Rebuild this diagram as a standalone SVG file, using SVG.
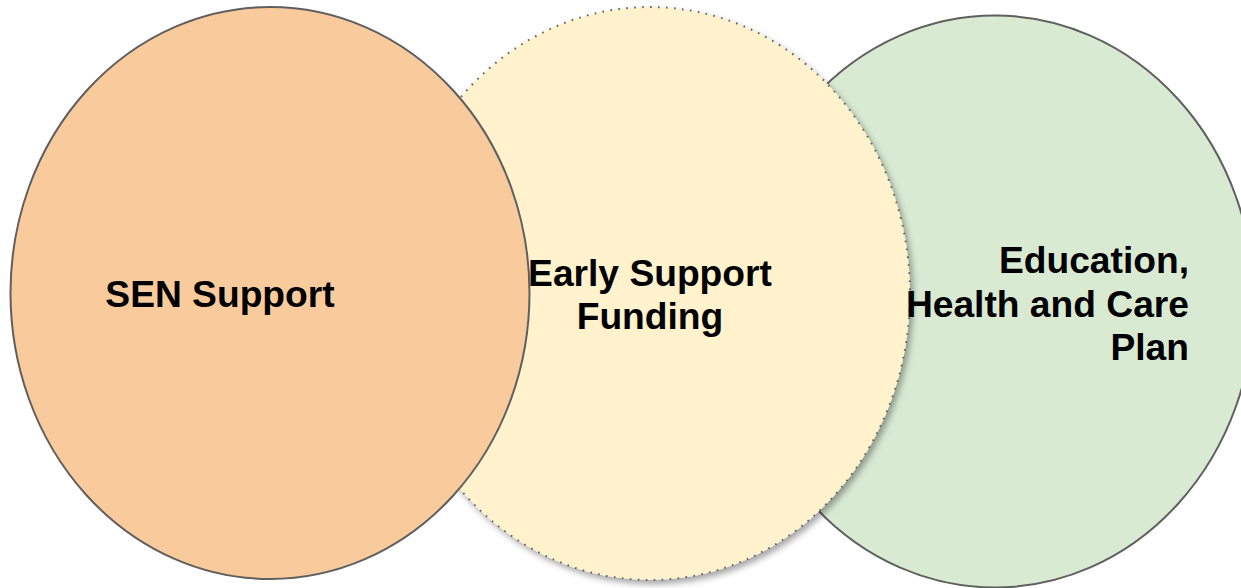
<svg xmlns="http://www.w3.org/2000/svg" width="1241" height="588" viewBox="0 0 1241 588">
  <defs>
    <filter id="softShadow" x="-10%" y="-10%" width="125%" height="125%">
      <feDropShadow dx="3" dy="4" stdDeviation="3" flood-color="#000" flood-opacity="0.35"/>
    </filter>
  </defs>
  <style>
    .solid { stroke: #5f5f5f; stroke-width: 2; }
    .dotted { stroke: #5f5f5f; stroke-width: 2; stroke-dasharray: 1.6 6.4; stroke-linecap: butt; }
    .label { font-family: "Liberation Sans", Arial, sans-serif; font-weight: bold; font-size: 37.2px; fill: #000; }
  </style>
  <rect width="1241" height="588" fill="#ffffff"/>

  <!-- Education, Health and Care Plan -->
  <g id="ehcp">
    <ellipse cx="995" cy="301.5" rx="259" ry="286" fill="#d9ead3" class="solid"/>
  </g>

  <!-- Early Support Funding -->
  <g id="early-support">
    <ellipse cx="650" cy="293.5" rx="260" ry="286.5" fill="#fff2cc" class="dotted" filter="url(#softShadow)"/>
  </g>

  <!-- SEN Support -->
  <g id="sen-support">
    <ellipse cx="270" cy="293" rx="259.5" ry="286" fill="#f9cb9c" class="solid"/>
  </g>

  <!-- labels -->
  <g id="labels">
    <text class="label" x="220" y="307" text-anchor="middle">SEN Support</text>
    <text class="label" x="650" y="286" text-anchor="middle">Early Support</text>
    <text class="label" x="650" y="329" text-anchor="middle">Funding</text>
    <text class="label" x="1189" y="273" text-anchor="end">Education,</text>
    <text class="label" x="1189" y="317" text-anchor="end">Health and Care</text>
    <text class="label" x="1189" y="360" text-anchor="end">Plan</text>
  </g>
</svg>
